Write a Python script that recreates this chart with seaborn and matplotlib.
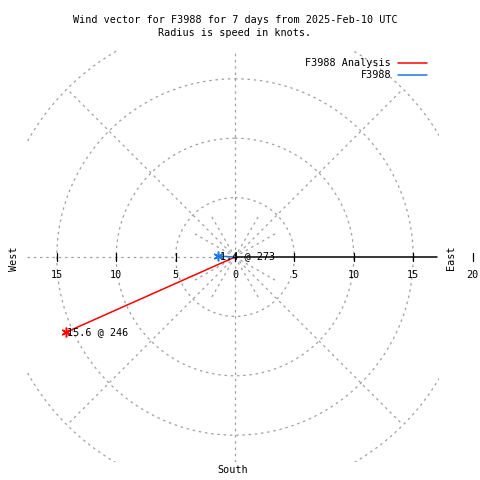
import matplotlib
matplotlib.use("Agg")
import matplotlib.pyplot as plt
from matplotlib.lines import Line2D
import seaborn as sns
import numpy as np
import pandas as pd

# ── Data ──────────────────────────────────────────────────────────────────
series     = ["F3988 Analysis", "F3988"]
speeds     = [15.6, 1.4]          # knots
directions = [246, 273]           # degrees, compass
colors     = ["#ff0000", "#1a78e6"]

ring_radii   = [5, 10, 15, 20]
left_ticks   = [5, 10, 15]
right_ticks  = [0, 5, 10, 15, 20]

sns.set_style("white")
plt.rcParams["font.family"] = ["DejaVu Sans Mono"]
plt.rcParams["text.color"] = "black"

FS = 7.3
GRID = dict(color="#a0a0a0", lw=0.9, ls=(0, (2, 3)))

W, H = 480, 480
fig = plt.figure(figsize=(W / 100, H / 100), dpi=100)

# axes box in pixels: x 27..439, y 50..462 ; centre at (235, 257)
px_per_kt = 11.88
xl, xr = -(235 - 27) / px_per_kt, (439 - 235) / px_per_kt
yt, yb = (257 - 50) / px_per_kt, -(462 - 257) / px_per_kt
ax = fig.add_axes([27 / W, 1 - 462 / H, (439 - 27) / W, (462 - 50) / H])
ax.set_xlim(xl, xr)
ax.set_ylim(yb, yt)
ax.axis("off")

# ── polar grid ────────────────────────────────────────────────────────────
th = np.linspace(0, 2 * np.pi, 400)
for r in ring_radii:
    ax.plot(r * np.sin(th), r * np.cos(th), **GRID)
for a in [45, 135, 225, 315]:
    t = np.deg2rad(a)
    ax.plot([0, 20 * np.sin(t)], [0, 20 * np.cos(t)], **GRID)
for a in [30, 60, 120, 150, 210, 240, 300, 330]:
    t = np.deg2rad(a)
    ax.plot([0, 4 * np.sin(t)], [0, 4 * np.cos(t)], **GRID)
ax.plot([0, 0], [yb, yt], **GRID)
ax.plot([xl, 0], [0, 0], **GRID)
ax.plot([0, xr - 0.15], [0, 0], color="black", lw=1.1)

# tick marks and labels on the E-W axis
for v in left_ticks:
    ax.plot([-v, -v], [-0.3, 0.3], color="black", lw=0.9)
    ax.text(-v, -1.5, str(v), ha="center", va="center", fontsize=FS)
for v in right_ticks:
    ax.plot([v, v], [-0.3, 0.3], color="black", lw=0.9, clip_on=False)
    ax.text(v, -1.5, str(v), ha="center", va="center", fontsize=FS,
            clip_on=False)

# ── wind vectors ──────────────────────────────────────────────────────────
df = pd.DataFrame({"series": series, "speed": speeds, "dir": directions})
df["x"] = df["speed"] * np.sin(np.deg2rad(df["dir"]))
df["y"] = df["speed"] * np.cos(np.deg2rad(df["dir"]))

for (_, row), c in zip(df.iterrows(), colors):
    seg = pd.DataFrame({"x": [0, row["x"]], "y": [0, row["y"]]})
    sns.lineplot(data=seg, x="x", y="y", ax=ax, color=c, lw=1.1,
                 sort=False, estimator=None)
    ax.plot(row["x"], row["y"], marker=(6, 2, 0), ms=7, mew=1.1, color=c)
    ax.text(row["x"] + 0.1, row["y"], f"{row['speed']:.1f} @ {row['dir']}",
            ha="left", va="center", fontsize=FS)
ax.set_xlabel("")
ax.set_ylabel("")

# ── text ──────────────────────────────────────────────────────────────────
fig.text(235 / W, 1 - 20 / H,
         "Wind vector for F3988 for 7 days from 2025-Feb-10 UTC",
         ha="center", va="center", fontsize=FS)
fig.text(235 / W, 1 - 33 / H, "Radius is speed in knots.",
         ha="center", va="center", fontsize=FS)
fig.text(14 / W, 1 - 259 / H, "West", rotation=90, ha="center",
         va="center", fontsize=FS)
fig.text(451 / W, 1 - 258 / H, "East", rotation=90, ha="center",
         va="center", fontsize=FS)
fig.text(233 / W, 1 - 470 / H, "South", ha="center", va="center",
         fontsize=FS)

# legend, gnuplot style
for i, (name, c) in enumerate(zip(series, colors)):
    yy = 1 - (63 + 12 * i) / H
    fig.text(391 / W, yy, name, ha="right", va="center", fontsize=FS)
    fig.add_artist(Line2D([398 / W, 427 / W], [yy, yy], color=c, lw=1.1,
                          transform=fig.transFigure))

fig.savefig("out.png", dpi=100)
